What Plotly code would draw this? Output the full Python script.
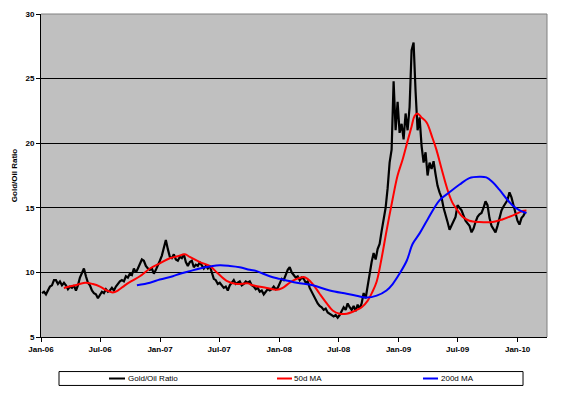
import pandas as pd
import plotly.graph_objects as go

# ---------------- data ----------------
ratio_start = "2006-01-04"
ratio_end = "2010-01-25"
gold_oil_ratio = [
    8.4, 8.5, 8.3, 8.6, 8.9, 9.0, 9.4, 9.4, 9.1, 9.3, 9.0, 9.2, 9.0, 8.7, 8.9, 8.8,
    9.0, 8.6, 9.0, 9.6, 10.0, 10.3, 9.7, 9.2, 9.0, 8.6, 8.4, 8.3, 8.0, 8.3, 8.5, 8.4,
    8.7, 8.5, 8.6, 8.8, 8.6, 8.9, 9.1, 9.3, 9.4, 9.3, 9.7, 9.6, 9.9, 9.8, 10.3, 10.0,
    10.3, 10.6, 11.0, 10.9, 10.5, 10.3, 10.2, 10.3, 9.9, 10.2, 10.5, 10.9, 11.3, 12.0,
    12.5, 11.8, 11.2, 11.1, 11.4, 11.0, 10.9, 11.2, 11.1, 11.4, 10.8, 10.5, 10.8, 10.9,
    10.4, 10.6, 10.5, 10.8, 10.5, 10.3, 10.5, 10.3, 10.5, 10.0, 9.5, 9.4, 9.1, 9.2,
    9.0, 8.8, 8.9, 8.6, 9.0, 9.2, 9.4, 9.1, 9.2, 9.3, 9.0, 9.1, 9.3, 9.2, 9.3, 9.0,
    8.9, 8.7, 8.8, 8.5, 8.6, 8.3, 8.5, 8.7, 8.6, 8.7, 8.9, 8.7, 8.8, 9.1, 9.5, 9.4,
    9.8, 10.2, 10.4, 10.0, 9.8, 9.6, 9.7, 9.4, 9.6, 9.5, 9.2, 9.3, 8.8, 8.5, 8.2, 7.8,
    7.6, 7.4, 7.3, 7.1, 7.2, 6.9, 6.8, 6.7, 6.6, 6.7, 6.5, 6.7, 7.0, 7.3, 7.1, 7.6,
    7.3, 7.1, 7.4, 7.0, 7.5, 7.2, 7.6, 8.4, 8.0, 9.0, 9.9, 10.8, 11.5, 11.0, 11.8, 12.2,
    13.2, 14.0, 15.0, 16.5, 18.5, 19.5, 24.8, 21.0, 23.2, 20.8, 21.5, 20.3, 22.3, 21.0,
    22.8, 27.2, 27.8, 24.0, 21.0, 22.0, 19.8, 18.5, 19.3, 17.5, 18.5, 18.0, 18.6, 17.6,
    16.7, 16.2, 15.8, 15.0, 14.5, 13.9, 13.3, 13.6, 14.0, 14.3, 15.2, 15.0, 14.8, 14.4,
    14.0, 13.8, 13.6, 13.1, 13.4, 13.9, 14.3, 14.5, 14.6, 15.0, 15.5, 15.2, 14.2, 13.6,
    13.3, 13.1, 13.6, 14.3, 14.8, 15.1, 15.4, 15.6, 16.2, 15.8, 15.2, 14.6, 14.0, 13.7,
    14.2, 14.4, 14.7,
]

ma50_dates = [
    "2006-03-12", "2006-04-15", "2006-05-16", "2006-06-09", "2006-07-01", "2006-07-22",
    "2006-08-09", "2006-08-25", "2006-09-15", "2006-10-07", "2006-10-31", "2006-12-01",
    "2006-12-31", "2007-01-31", "2007-02-24", "2007-03-18", "2007-04-02", "2007-05-03",
    "2007-06-02", "2007-06-24", "2007-07-24", "2007-08-24", "2007-09-27", "2007-10-12",
    "2007-11-24", "2007-12-25", "2008-01-12", "2008-02-02", "2008-02-24", "2008-03-16",
    "2008-03-28", "2008-04-13", "2008-05-04", "2008-05-26", "2008-06-13", "2008-07-04",
    "2008-07-26", "2008-08-13", "2008-09-10", "2008-09-28", "2008-10-13", "2008-10-26",
    "2008-11-10", "2008-11-25", "2008-12-14", "2008-12-29", "2009-01-13", "2009-01-29",
    "2009-02-10", "2009-02-19", "2009-02-28", "2009-03-12", "2009-03-28", "2009-04-15",
    "2009-04-27", "2009-05-13", "2009-05-31", "2009-06-15", "2009-06-28", "2009-07-16",
    "2009-08-06", "2009-09-06", "2009-10-16", "2009-11-15", "2009-12-16", "2010-01-16",
    "2010-01-28",
]
ma50_values = [
    8.8, 9.0, 9.2, 9.1, 8.9, 8.6,
    8.45, 8.6, 9.0, 9.35, 9.7, 10.3,
    10.7, 11.1, 11.25, 11.4, 11.2, 10.8,
    10.5, 10.0, 9.35, 9.1, 9.15, 9.0,
    8.8, 8.65, 8.8, 9.2, 9.5, 9.65,
    9.5, 9.1, 8.35, 7.6, 7.05, 6.8,
    6.8, 6.95, 7.3, 7.8, 8.5, 9.3,
    11.1, 13.2, 15.7, 17.5, 18.7, 20.2,
    21.3, 22.1, 22.3, 22.0, 21.6, 20.4,
    19.5, 18.0, 16.4, 15.4, 14.9, 14.3,
    14.0, 13.9, 13.9, 14.1, 14.4, 14.75,
    14.8,
]

ma200_dates = [
    "2006-10-22", "2006-12-01", "2006-12-31", "2007-02-09", "2007-03-03", "2007-04-02",
    "2007-05-03", "2007-06-02", "2007-07-03", "2007-08-03", "2007-09-02", "2007-10-03",
    "2007-10-24", "2007-12-03", "2008-01-03", "2008-02-24", "2008-04-13", "2008-06-04",
    "2008-07-26", "2008-08-25", "2008-09-25", "2008-10-26", "2008-11-25", "2008-12-14",
    "2009-01-04", "2009-01-26", "2009-02-13", "2009-03-06", "2009-03-31", "2009-05-07",
    "2009-06-06", "2009-07-07", "2009-08-06", "2009-09-06", "2009-09-27", "2009-10-16",
    "2009-11-06", "2009-11-28", "2009-12-16", "2010-01-07", "2010-01-28",
]
ma200_values = [
    9.0, 9.2, 9.45, 9.7, 9.9, 10.1,
    10.3, 10.45, 10.55, 10.5, 10.4, 10.2,
    10.1, 9.7, 9.5, 9.2, 9.0, 8.6,
    8.35, 8.2, 8.05, 8.2, 8.6, 9.1,
    9.9, 10.9, 12.2, 13.0, 14.1, 15.6,
    16.2, 16.8, 17.3, 17.4, 17.35, 17.0,
    16.4, 15.7, 15.2, 14.8, 14.6,
]

x_tick_dates = ["2006-01-01", "2006-07-01", "2007-01-01", "2007-07-01", "2008-01-01",
                "2008-07-01", "2009-01-01", "2009-07-01", "2010-01-01"]
x_tick_labels = ["Jan-06", "Jul-06", "Jan-07", "Jul-07", "Jan-08",
                 "Jul-08", "Jan-09", "Jul-09", "Jan-10"]
y_tick_values = [5, 10, 15, 20, 25, 30]

series_names = ["Gold/Oil Ratio", "50d MA", "200d MA"]
series_colors = ["#000000", "#FF0000", "#0000FF"]

# ---------------- figure ----------------
ratio_dates = pd.date_range(ratio_start, ratio_end, periods=len(gold_oil_ratio))

fig = go.Figure()
fig.add_trace(go.Scatter(x=ratio_dates, y=gold_oil_ratio, mode="lines",
                         name=series_names[0],
                         line=dict(color=series_colors[0], width=2.2)))
fig.add_trace(go.Scatter(x=pd.to_datetime(ma50_dates), y=ma50_values, mode="lines",
                         name=series_names[1],
                         line=dict(color=series_colors[1], width=2, shape="spline")))
fig.add_trace(go.Scatter(x=pd.to_datetime(ma200_dates), y=ma200_values, mode="lines",
                         name=series_names[2],
                         line=dict(color=series_colors[2], width=2, shape="spline")))

tick_font = dict(family="Liberation Sans, Arial, sans-serif", size=8, color="black",
                 weight="bold")

fig.update_layout(
    width=576, height=394,
    margin=dict(l=41, r=29, t=10, b=57),
    paper_bgcolor="white",
    plot_bgcolor="#C0C0C0",
    showlegend=False,
    font=dict(family="Liberation Sans, Arial, sans-serif", size=8, color="black"),
)
fig.update_xaxes(
    type="date", range=["2006-01-01", "2010-04-01"],
    tickvals=x_tick_dates, ticktext=x_tick_labels,
    showgrid=False, zeroline=False,
    showline=True, linecolor="black", linewidth=1,
    ticks="outside", ticklen=4, tickcolor="black",
    tickfont=tick_font,
)
fig.update_yaxes(
    range=[5, 30], tickvals=y_tick_values,
    showgrid=True, gridcolor="black", gridwidth=1, zeroline=False,
    showline=True, linecolor="black", linewidth=1,
    ticks="outside", ticklen=4, tickcolor="black",
    tickfont=tick_font,
    title=dict(text="Gold/Oil Ratio", font=tick_font, standoff=6),
)

# gray plot-area border (top & right)
fig.add_shape(type="line", xref="paper", yref="paper", x0=0, x1=1, y0=1, y1=1,
              line=dict(color="#808080", width=1), layer="above")
fig.add_shape(type="line", xref="paper", yref="paper", x0=1, x1=1, y0=0, y1=1,
              line=dict(color="#808080", width=1), layer="above")

# legend box (drawn by hand to match the Excel-style layout)
fig.add_shape(type="rect", xref="paper", yref="paper",
              x0=0.0356, x1=0.9526, y0=-0.1500, y1=-0.1070,
              line=dict(color="black", width=1), fillcolor="white")
legend_pos = [(0.1344, 0.1660), (0.4664, 0.4960), (0.7549, 0.7846)]
for (lx0, lx1), name, col in zip(legend_pos, series_names, series_colors):
    fig.add_shape(type="line", xref="paper", yref="paper",
                  x0=lx0, x1=lx1, y0=-0.1285, y1=-0.1285,
                  line=dict(color=col, width=2))
    fig.add_annotation(x=lx1 + 0.001, y=-0.1285, xref="paper", yref="paper",
                       text=name, showarrow=False, xanchor="left", yanchor="middle",
                       font=dict(family="Liberation Sans, Arial, sans-serif",
                                 size=8, color="black"))

fig.write_html("out.html",
               config={"displayModeBar": False},
               post_script="document.body.style.margin='0';"
                           "document.body.style.overflow='hidden';")
